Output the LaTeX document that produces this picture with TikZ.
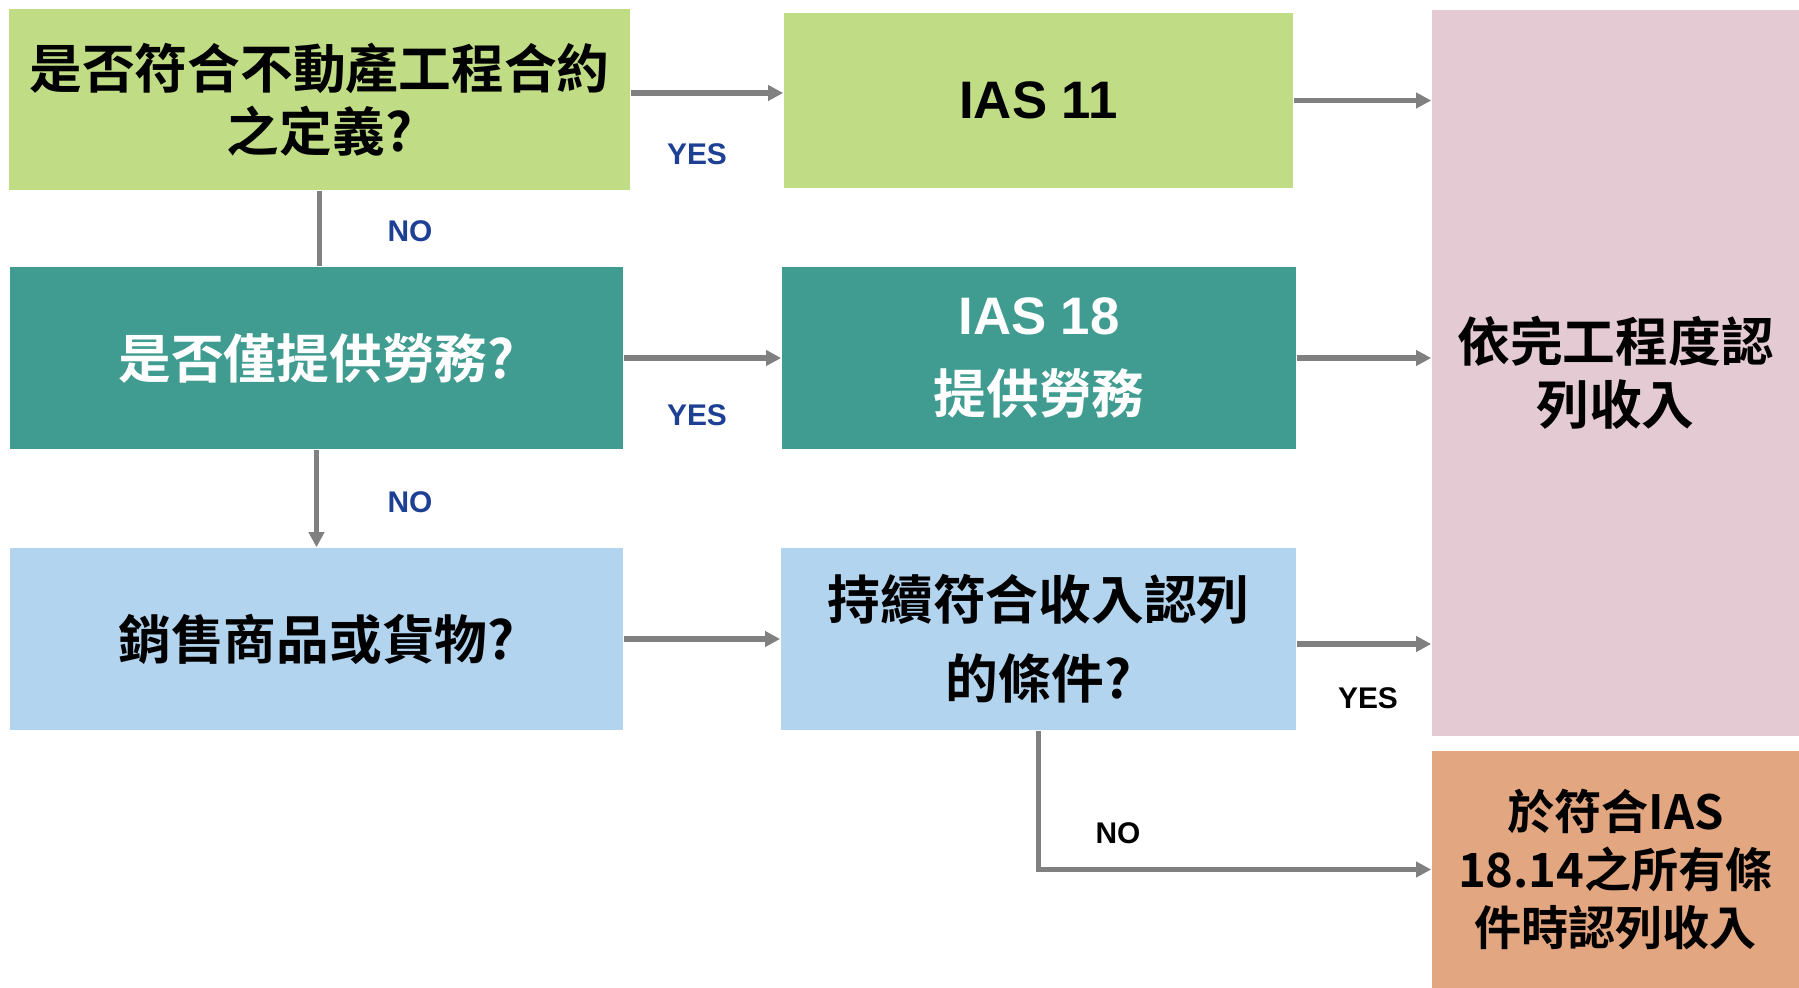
\documentclass[tikz,border=0pt]{standalone}
\usepackage{fontspec}
\setmainfont{Liberation Sans}
\newfontfamily\cjk{Noto Sans CJK TC}[BoldFont={Noto Sans CJK TC Bold}]
\usetikzlibrary{arrows.meta}
\definecolor{boxgreen}{HTML}{C0DD85}
\definecolor{boxteal}{HTML}{409C91}
\definecolor{boxblue}{HTML}{B3D4EE}
\definecolor{boxpink}{HTML}{E4CAD2}
\definecolor{boxorange}{HTML}{E2A681}
\definecolor{arrgray}{HTML}{808080}
\definecolor{lblblue}{HTML}{1D3F94}

\begin{document}
\begin{tikzpicture}[x=0.01cm, y=-0.01cm,
      box/.style={rectangle, inner sep=0pt, align=center, font=\cjk\bfseries\fontsize{15}{18}\selectfont},
          green box/.style={box, fill=boxgreen},
          teal box/.style={box, fill=boxteal, text=white},
          blue box/.style={box, fill=boxblue},
          pink box/.style={box, fill=boxpink},
          orange box/.style={box, fill=boxorange},
      arr/.style={draw=arrgray, line width=1.55pt, -{Triangle[length=0.15cm, width=0.15cm]}},
      link/.style={draw=arrgray, line width=1.55pt},
      answer/.style={font=\bfseries\fontsize{8.5}{10}\selectfont, text=lblblue},
      answer black/.style={answer, text=black},
      ]
        \useasboundingbox (0,0) rectangle (1799,988);

        \node[green box, minimum width=6.21cm, minimum height=1.81cm] (q1) at (319.5, 99.5) {是否符合不動產工程合約\\之定義?};
        \node[teal box, minimum width=6.13cm, minimum height=1.82cm] (q2) at (316.5, 358) {是否僅提供勞務?};
        \node[blue box, minimum width=6.13cm, minimum height=1.82cm] (q3) at (316.5, 639) {銷售商品或貨物?};

        \node[green box, minimum width=5.09cm, minimum height=1.75cm, font=\bfseries\fontsize{15}{18}\selectfont] (ias11) at (1038.5, 100.5) {IAS 11};
        \node[teal box, minimum width=5.14cm, minimum height=1.82cm, font=\bfseries\fontsize{15}{22.7}\selectfont] (ias18) at (1039, 358) {IAS 18\\{\cjk 提供勞務}};
        \node[blue box, minimum width=5.15cm, minimum height=1.82cm, font=\cjk\bfseries\fontsize{15}{22.5}\selectfont] (q4) at (1038.5, 639) {持續符合收入認列\\的條件?};

        \node[pink box, minimum width=3.67cm, minimum height=7.26cm] (pct) at (1615.5, 373) {依完工程度認\\列收入};
        \node[orange box, minimum width=3.67cm, minimum height=2.37cm, font=\cjk\bfseries\fontsize{13.4}{16.5}\selectfont] (later) at (1615.5, 869.5) {於符合IAS\\18.14之所有條\\件時認列收入};

        \draw[arr] ([yshift=0.065cm]q1.east) -- ([yshift=0.065cm]q1.east -| ias11.west);
        \draw[link] (q1.south) -- (q1.south |- q2.north);
        \draw[arr] (q2.east) -- (q2.east -| ias18.west);
        \draw[arr] (q2.south) -- (q2.south |- q3.north);
        \draw[arr] (q3.east) -- (q3.east -| q4.west);

        \draw[arr] (ias11.east) -- (ias11.east -| pct.west);
        \draw[arr] (ias18.east) -- (ias18.east -| pct.west);
        \draw[arr] ([yshift=-0.05cm]q4.east) -- ([yshift=-0.05cm]q4.east -| pct.west);
        \draw[arr] (q4.south) |- (later.west);

        \node[answer] (yes1) at (697, 154) {YES};
        \node[answer] (no1) at (410, 231) {NO};
        \node[answer] (yes2) at (697, 415) {YES};
        \node[answer] (no2) at (410, 502) {NO};
        \node[answer black] (yes3) at (1368, 698) {YES};
        \node[answer black] (no3) at (1118, 833) {NO};

        \end{tikzpicture}
\end{document}
